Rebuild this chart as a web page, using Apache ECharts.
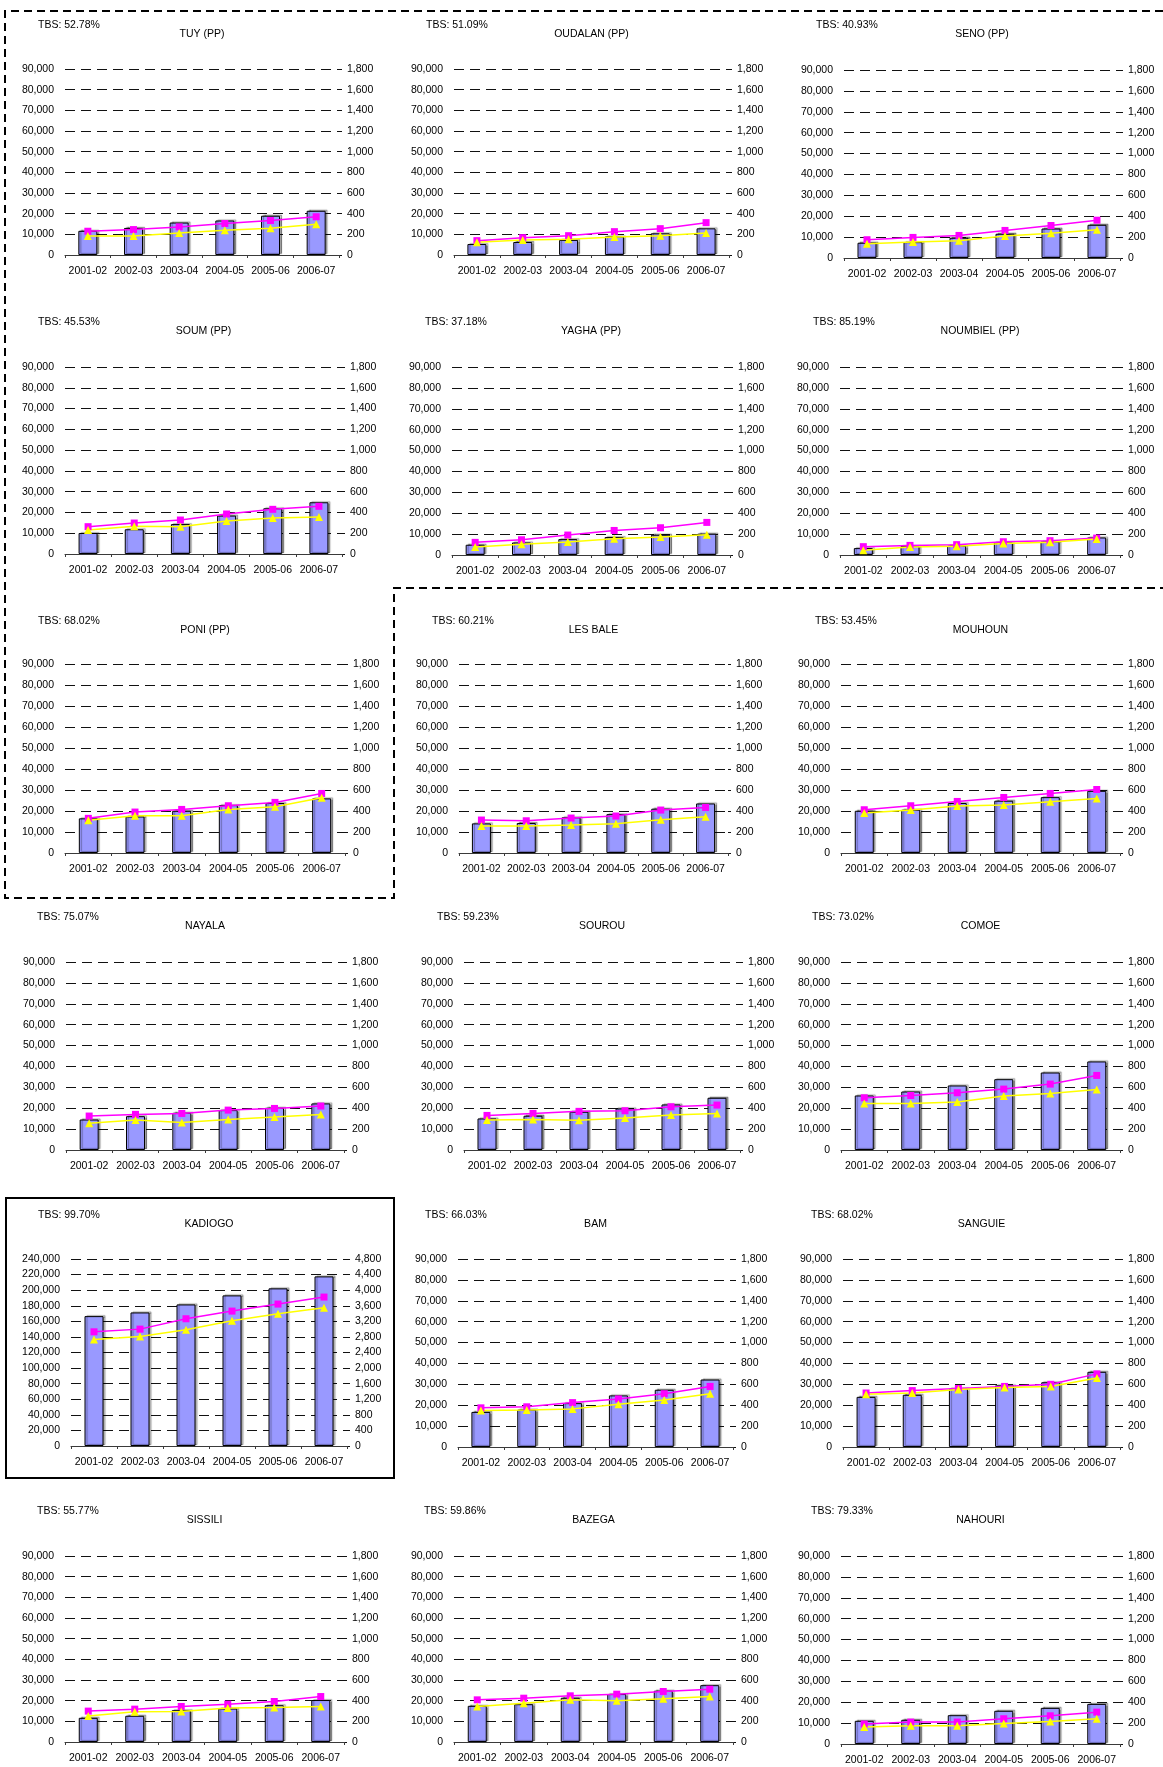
<!DOCTYPE html>
<html>
<head>
<meta charset="utf-8">
<script src="https://cdn.jsdelivr.net/npm/echarts@6/dist/echarts.min.js"></script>
<style>
  html, body { margin: 0; padding: 0; background: #ffffff; }
  #chart { width: 1163px; height: 1767px; }
</style>
</head>
<body>
<div id="chart"></div>
<script>
// School years on the category axis
const years = ['2001-02', '2002-03', '2003-04', '2004-05', '2005-06', '2006-07'];

// Province names, read row by row (three per row)
const provinces = [
  'TUY (PP)', 'OUDALAN (PP)', 'SENO (PP)',
  'SOUM (PP)', 'YAGHA (PP)', 'NOUMBIEL (PP)',
  'PONI (PP)', 'LES BALE', 'MOUHOUN',
  'NAYALA', 'SOUROU', 'COMOE',
  'KADIOGO', 'BAM', 'SANGUIE',
  'SISSILI', 'BAZEGA', 'NAHOURI'
];

// Gross enrolment rate shown at the top-left of each panel
const tbsLabels = [
  'TBS: 52.78%', 'TBS: 51.09%', 'TBS: 40.93%',
  'TBS: 45.53%', 'TBS: 37.18%', 'TBS: 85.19%',
  'TBS: 68.02%', 'TBS: 60.21%', 'TBS: 53.45%',
  'TBS: 75.07%', 'TBS: 59.23%', 'TBS: 73.02%',
  'TBS: 99.70%', 'TBS: 66.03%', 'TBS: 68.02%',
  'TBS: 55.77%', 'TBS: 59.86%', 'TBS: 79.33%'
];

// Enrolment (bars, left axis)
const enrolment = [
  [11700, 13100, 15700, 16700, 19000, 21400],
  [5300, 6300, 7300, 9000, 10500, 12900],
  [7300, 7600, 9700, 11600, 14100, 15900],
  [10100, 11900, 14400, 18500, 22000, 24900],
  [4900, 6000, 7600, 8600, 9700, 10200],
  [3300, 4300, 4500, 6000, 6500, 8400],
  [16500, 17400, 20100, 22800, 23800, 26000],
  [14100, 14300, 17000, 18500, 21100, 23600],
  [20100, 20600, 23800, 24900, 26600, 29600],
  [14600, 16200, 17800, 19100, 20200, 22300],
  [15100, 16400, 18300, 19900, 21800, 25000],
  [26100, 28000, 30900, 33900, 37100, 42400],
  [166700, 171400, 181700, 193300, 202300, 217700],
  [16800, 17900, 21000, 24700, 27400, 32300],
  [24000, 25000, 28000, 29500, 31000, 36000],
  [11700, 12700, 15400, 16200, 17800, 20300],
  [17500, 18300, 21400, 23200, 24800, 27500],
  [11100, 11600, 13800, 15900, 17300, 19200]
];

// Magenta series (squares, right axis)
const magentaValues = [
  [230, 246, 272, 305, 334, 370],
  [139, 168, 187, 226, 255, 313],
  [175, 197, 216, 264, 311, 362],
  [263, 298, 327, 385, 430, 459],
  [121, 146, 191, 235, 261, 312],
  [80, 92, 99, 127, 137, 162],
  [330, 390, 415, 450, 482, 567],
  [314, 307, 333, 352, 409, 434],
  [412, 450, 491, 529, 567, 605],
  [325, 341, 350, 382, 398, 421],
  [331, 350, 370, 376, 414, 430],
  [500, 522, 548, 583, 631, 714],
  [2931, 3000, 3266, 3463, 3643, 3823],
  [375, 385, 425, 460, 510, 580],
  [517, 540, 560, 580, 600, 700],
  [299, 318, 344, 366, 392, 440],
  [408, 424, 447, 463, 489, 511],
  [191, 210, 210, 242, 270, 305]
];

// Yellow series (triangles, right axis)
const yellowValues = [
  [185, 185, 214, 240, 259, 298],
  [123, 145, 152, 175, 187, 213],
  [137, 152, 165, 210, 238, 270],
  [231, 266, 263, 318, 347, 356],
  [76, 102, 124, 156, 172, 194],
  [45, 76, 83, 111, 121, 153],
  [311, 355, 355, 415, 441, 526],
  [257, 257, 266, 279, 317, 345],
  [380, 409, 447, 456, 488, 520],
  [255, 287, 264, 293, 315, 341],
  [287, 293, 284, 306, 334, 350],
  [446, 446, 459, 516, 542, 580],
  [2734, 2811, 2983, 3214, 3394, 3549],
  [350, 355, 365, 410, 450, 510],
  [506, 517, 550, 570, 580, 660],
  [251, 292, 296, 328, 334, 344],
  [344, 376, 408, 399, 418, 440],
  [162, 175, 175, 197, 216, 242]
];

// Axis ranges (left: enrolment, right: line series)
const leftMax   = [90000, 90000, 90000, 90000, 90000, 90000, 90000, 90000, 90000, 90000, 90000, 90000, 240000, 90000, 90000, 90000, 90000, 90000];
const leftStep  = [10000, 10000, 10000, 10000, 10000, 10000, 10000, 10000, 10000, 10000, 10000, 10000, 20000, 10000, 10000, 10000, 10000, 10000];
const rightMax  = [1800, 1800, 1800, 1800, 1800, 1800, 1800, 1800, 1800, 1800, 1800, 1800, 4800, 1800, 1800, 1800, 1800, 1800];
const rightStep = [200, 200, 200, 200, 200, 200, 200, 200, 200, 200, 200, 200, 400, 200, 200, 200, 200, 200];

// ---- layout of the 3 x 6 panel sheet ----
const plotX = [
  [65, 339], [454, 729], [844, 1120],
  [65, 342], [452, 730], [840, 1120],
  [65, 345], [459, 728], [841, 1120],
  [66, 344], [464, 740], [841, 1120],
  [71, 347], [458, 733], [843, 1120],
  [65, 344], [454, 733], [841, 1120]
];
const plotY = [
  [69, 255], [69, 255], [70, 258],
  [367, 554], [367, 555], [367, 555],
  [664, 853], [664, 853], [664, 853],
  [962, 1150], [962, 1150], [962, 1150],
  [1259, 1446], [1259, 1447], [1259, 1447],
  [1556, 1742], [1556, 1742], [1556, 1744]
];
const tbsX = [
  38, 426, 816,
  38, 425, 813,
  38, 432, 815,
  37, 437, 812,
  38, 425, 811,
  37, 424, 811
];
const tbsY = [25, 322, 621, 917, 1215, 1511];

const FONT = '"Liberation Sans", Arial, Helvetica, sans-serif';
const FS = 10.5;
const fmt = v => Number(v).toLocaleString('en-US');

const grid = [], xAxis = [], yAxis = [], series = [], title = [];

provinces.forEach((name, i) => {
  const row = Math.floor(i / 3);
  const [l, r] = plotX[i];
  const [t, z] = plotY[i];

  grid.push({ left: l, top: t, width: r - l, height: z - t, containLabel: false });

  xAxis.push({
    type: 'category', gridIndex: i, data: years, boundaryGap: true,
    axisLine: { show: true, lineStyle: { color: '#3a3a3a', width: 1 } },
    axisTick: { show: true, length: 3, lineStyle: { color: '#3a3a3a' } },
    axisLabel: { interval: 0, color: '#000', fontSize: FS, fontFamily: FONT, margin: 11 },
    splitLine: { show: false }
  });

  yAxis.push({
    type: 'value', gridIndex: i, position: 'left',
    min: 0, max: leftMax[i], interval: leftStep[i],
    axisLine: { show: false }, axisTick: { show: false },
    axisLabel: { color: '#000', fontSize: FS, fontFamily: FONT, margin: 11, formatter: fmt },
    splitLine: { show: true, lineStyle: { color: '#111', width: 1, type: [10, 6] } }
  });
  yAxis.push({
    type: 'value', gridIndex: i, position: 'right',
    min: 0, max: rightMax[i], interval: rightStep[i],
    axisLine: { show: false },
    axisTick: { show: true, length: 3, lineStyle: { color: '#111' } },
    axisLabel: { color: '#000', fontSize: FS, fontFamily: FONT, margin: 8, formatter: fmt },
    splitLine: { show: false }
  });

  series.push({
    type: 'bar', xAxisIndex: i, yAxisIndex: 2 * i, data: enrolment[i],
    barWidth: 19,
    itemStyle: {
      color: '#9999FF', borderColor: '#000', borderWidth: 1,
      shadowColor: 'rgba(0,0,0,0.35)', shadowOffsetX: 2, shadowOffsetY: -1, shadowBlur: 1
    }
  });
  series.push({
    type: 'line', xAxisIndex: i, yAxisIndex: 2 * i + 1, data: magentaValues[i],
    symbol: 'rect', symbolSize: 7,
    lineStyle: { color: '#FF00FF', width: 1.5 },
    itemStyle: { color: '#FF00FF' }
  });
  series.push({
    type: 'line', xAxisIndex: i, yAxisIndex: 2 * i + 1, data: yellowValues[i],
    symbol: 'triangle', symbolSize: 8,
    lineStyle: { color: '#FFFF00', width: 1.5 },
    itemStyle: { color: '#FFFF00' }
  });

  title.push({
    text: tbsLabels[i], left: tbsX[i], top: tbsY[row] - 5, padding: 0,
    textStyle: { fontSize: FS, fontWeight: 'normal', color: '#000', fontFamily: FONT }
  });
  title.push({
    text: name, left: (l + r) / 2, top: tbsY[row] + 4, padding: 0, textAlign: 'center',
    textStyle: { fontSize: FS, fontWeight: 'normal', color: '#000', fontFamily: FONT }
  });
});

// Outlines grouping the PP provinces (dashed) and the capital (solid)
const graphic = [
  {
    type: 'polyline', silent: true,
    shape: { points: [[1163, 11], [5, 11], [5, 898], [394, 898], [394, 588], [1163, 588]] },
    style: { fill: null, stroke: '#000', lineWidth: 2, lineDash: [8, 5] }
  },
  {
    type: 'rect', silent: true,
    shape: { x: 6, y: 1198, width: 388, height: 280 },
    style: { fill: null, stroke: '#000', lineWidth: 2 }
  }
];

const chart = echarts.init(document.getElementById('chart'), null, { renderer: 'canvas' });
chart.setOption({
  animation: false,
  backgroundColor: '#ffffff',
  textStyle: { fontFamily: FONT },
  title, grid, xAxis, yAxis, series, graphic
});
</script>
</body>
</html>
